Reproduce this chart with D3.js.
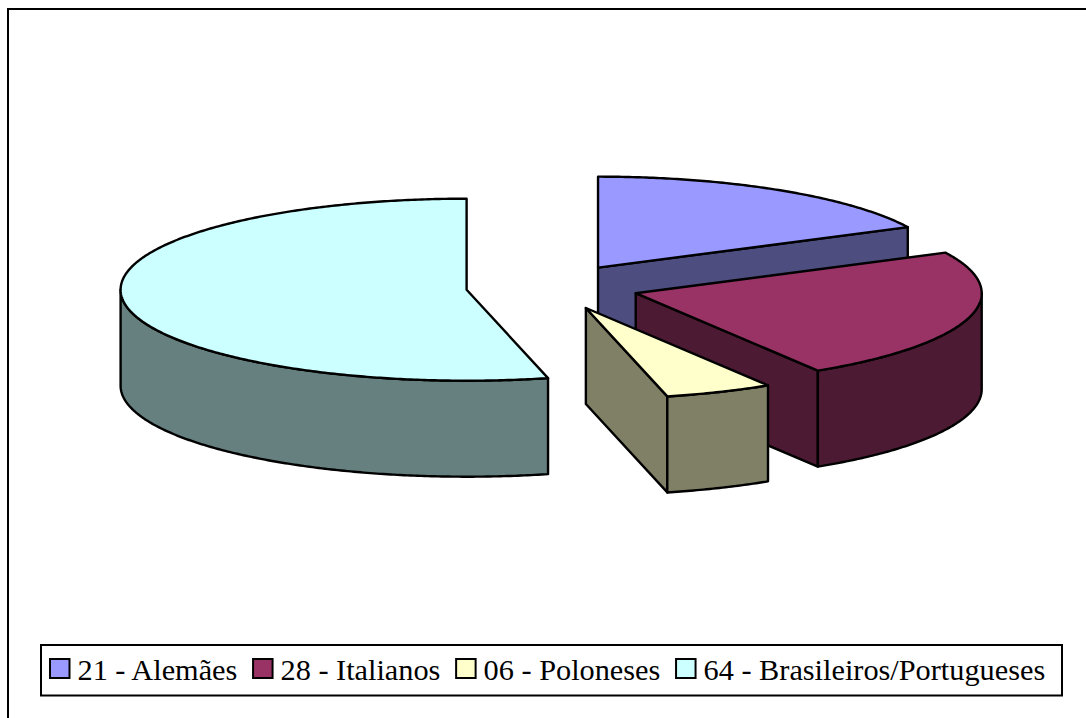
<!DOCTYPE html>
<html>
<head>
<meta charset="utf-8">
<script src="https://cdn.jsdelivr.net/npm/d3@7"></script>
<style>
  html, body { margin: 0; padding: 0; background: #fff; }
  svg { display: block; }
  text { font-family: "Liberation Serif", serif; }
</style>
</head>
<body>
<svg id="chart"></svg>
<script>
const width = 1086;
const height = 718;

const labels = ['21 - Alemães', '28 - Italianos', '06 - Poloneses', '64 - Brasileiros/Portugueses'];
const values = [21, 28, 6, 64];
const topColors = ['#9999FF', '#993366', '#FFFFCC', '#CCFFFF'];
const sideColors = ['#4D4D80', '#4D1A33', '#808066', '#668080'];

const cx = 552.5;
const cy = 287;
const rx = 346;
const ry = 91;
const depth = 96;
const explode = 0.25;

const svg = d3.select('#chart').attr('width', width).attr('height', height);

// outer frame runs off the right and bottom of the picture
svg.append('path')
    .attr('d', `M8,${height + 5}V9H${width + 5}`)
    .attr('fill', 'none')
    .attr('stroke', '#000')
    .attr('stroke-width', 2);

const pie = d3.pie().sort(null).value(d => d);
const slices = pie(values);

// map pie angle (0 = top, clockwise) onto the tilted ellipse
const project = (c, a) => [c[0] + rx * Math.sin(a), c[1] - ry * Math.cos(a)];
const faces = (a) => Math.cos(a) < -1e-6;

function arcPoints(c, a0, a1) {
    const n = Math.max(2, Math.ceil(Math.abs(a1 - a0) / 0.01));
    return d3.range(n + 1).map(i => project(c, a0 + (a1 - a0) * i / n));
}
const line = d3.line();
const down = p => [p[0], p[1] + depth];

const pieG = svg.append('g')
    .attr('stroke', '#000')
    .attr('stroke-width', 2.4)
    .attr('stroke-linejoin', 'round');

slices.forEach((s, i) => {
    const mid = (s.startAngle + s.endAngle) / 2;
    const c = [cx + explode * rx * Math.sin(mid), cy - explode * ry * Math.cos(mid)];
    const g = pieG.append('g').attr('class', 'slice');

    // radial faces, only the ones turned to the viewer
    [[s.startAngle, s.startAngle - Math.PI / 2], [s.endAngle, s.endAngle + Math.PI / 2]].forEach(([a, n]) => {
        if (!faces(n)) return;
        const p = project(c, a);
        g.append('path')
            .attr('d', line([c, p, down(p), down(c)]) + 'Z')
            .attr('fill', sideColors[i]);
    });

    // curved wall: front half of the ellipse, 90deg to 270deg
    const from = Math.max(s.startAngle, Math.PI / 2);
    const to = Math.min(s.endAngle, Math.PI * 1.5);
    if (to > from) {
        const pts = arcPoints(c, from, to);
        g.append('path')
            .attr('d', line(pts.concat(pts.map(down).reverse())) + 'Z')
            .attr('fill', sideColors[i]);
    }

    g.append('path')
        .attr('d', line([c].concat(arcPoints(c, s.startAngle, s.endAngle))) + 'Z')
        .attr('fill', topColors[i]);
});

// legend
const legend = svg.append('g');
legend.append('rect')
    .attr('x', 41).attr('y', 645)
    .attr('width', 1021).attr('height', 50.5)
    .attr('fill', '#fff')
    .attr('stroke', '#000')
    .attr('stroke-width', 2);

let legendX = 50;
labels.forEach((label, i) => {
    legend.append('rect')
        .attr('x', legendX).attr('y', 659)
        .attr('width', 19.5).attr('height', 19)
        .attr('fill', topColors[i])
        .attr('stroke', '#000')
        .attr('stroke-width', 2);
    const t = legend.append('text')
        .attr('x', legendX + 27.5).attr('y', 679.5)
        .attr('font-size', 30.3)
        .attr('fill', '#000')
        .text(label);
    legendX += 27.5 + t.node().getComputedTextLength() + 15.7;
});
</script>
</body>
</html>
